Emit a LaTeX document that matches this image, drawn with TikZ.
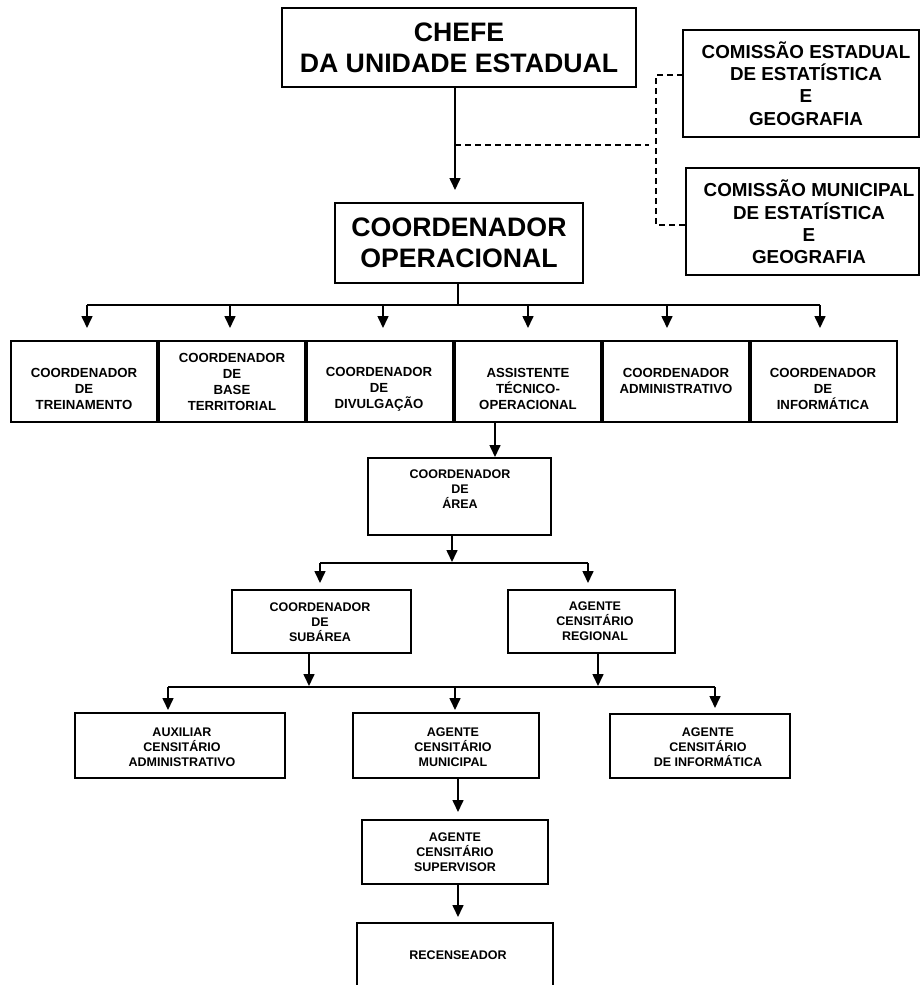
\documentclass[tikz,border=0pt]{standalone}
\usepackage{fontspec}
\setmainfont{Liberation Sans}
\usetikzlibrary{arrows.meta}
\begin{document}
\begin{tikzpicture}[x=1pt,y=-1pt,
  box/.style={draw, line width=2pt, inner sep=0pt, outer sep=0pt},
  bigtxt/.style={align=center, inner sep=0pt, font=\fontsize{26.7}{31}\selectfont\bfseries},
  comtxt/.style={align=center, inner sep=0pt, font=\fontsize{18.8}{22.3}\selectfont\bfseries},
  rowtxt/.style={align=center, inner sep=0pt, font=\fontsize{13.2}{16}\selectfont\bfseries},
  lowtxt/.style={align=center, inner sep=0pt, font=\fontsize{12.5}{15}\selectfont\bfseries},
  conn/.style={line width=1.6pt},
  conn2/.style={line width=2.2pt},
  arr/.style={line width=1.6pt, -{Triangle[width=11pt,length=12pt]}},
  dsh/.style={line width=1.3pt, dash pattern=on 6pt off 4pt}
]
\useasboundingbox (0,0) rectangle (921,985);
\fill[white] (0,0) rectangle (921,985);
\clip (0,0) rectangle (921,985);

% ---- top level ----
\node[box, minimum width=354pt, minimum height=79pt] (chefe) at (459,47.5) {};
\node[bigtxt] (chefe-t) at (459,48) {CHEFE\\DA UNIDADE ESTADUAL};

\node[box, minimum width=236pt, minimum height=107pt] (estadual) at (801,83.5) {};
\node[comtxt] (estadual-t) at (806,83.5) {COMISSÃO ESTADUAL\\DE ESTATÍSTICA\\E\\GEOGRAFIA};

\node[box, minimum width=233pt, minimum height=107pt] (municipal) at (802.5,221.5) {};
\node[comtxt] (municipal-t) at (809,222) {COMISSÃO MUNICIPAL\\DE ESTATÍSTICA\\E\\GEOGRAFIA};

\node[box, minimum width=248pt, minimum height=80pt] (oper) at (459,243) {};
\node[bigtxt] (oper-t) at (459,243) {COORDENADOR\\OPERACIONAL};

% ---- row of six coordinators ----
\foreach \i/\cx in {1/84,2/232,3/380,4/528,5/676,6/824}
  \node[box, minimum width=146pt, minimum height=81pt] (r\i) at (\cx,381.5) {};
\node[rowtxt] (t1) at (84,389) {COORDENADOR\\DE\\TREINAMENTO};
\node[rowtxt] (t2) at (232,382) {COORDENADOR\\DE\\BASE\\TERRITORIAL};
\node[rowtxt] (t3) at (379,389) {COORDENADOR\\DE\\DIVULGAÇÃO};
\node[rowtxt] (t4) at (528,389) {ASSISTENTE\\TÉCNICO-\\OPERACIONAL};
\node[rowtxt] (t5) at (676,381) {COORDENADOR\\ADMINISTRATIVO};
\node[rowtxt] (t6) at (823,389) {COORDENADOR\\DE\\INFORMÁTICA};

% ---- area level ----
\node[box, minimum width=183pt, minimum height=77pt] (area) at (459.5,496.5) {};
\node[lowtxt] (area-t) at (460,489) {COORDENADOR\\DE\\ÁREA};

\node[box, minimum width=179pt, minimum height=63pt] (subarea) at (321.5,621.5) {};
\node[lowtxt] (subarea-t) at (320,622) {COORDENADOR\\DE\\SUBÁREA};

\node[box, minimum width=167pt, minimum height=63pt] (regional) at (591.5,621.5) {};
\node[lowtxt] (regional-t) at (595,621) {AGENTE\\CENSITÁRIO\\REGIONAL};

% ---- municipal level ----
\node[box, minimum width=210pt, minimum height=65pt] (auxiliar) at (180,745.5) {};
\node[lowtxt] (auxiliar-t) at (182,747) {AUXILIAR\\CENSITÁRIO\\ADMINISTRATIVO};

\node[box, minimum width=186pt, minimum height=65pt] (acmun) at (446,745.5) {};
\node[lowtxt] (acmun-t) at (453,747) {AGENTE\\CENSITÁRIO\\MUNICIPAL};

\node[box, minimum width=180pt, minimum height=64pt] (acinf) at (700,746) {};
\node[lowtxt] (acinf-t) at (708,747) {AGENTE\\CENSITÁRIO\\DE INFORMÁTICA};

\node[box, minimum width=186pt, minimum height=64pt] (supervisor) at (455,852) {};
\node[lowtxt] (supervisor-t) at (455,852) {AGENTE\\CENSITÁRIO\\SUPERVISOR};

\node[box, minimum width=196pt, minimum height=67pt] (recens) at (455,956.5) {};
\node[lowtxt] (recens-t) at (458,955) {RECENSEADOR};

% ---- connectors ----
\draw[arr, shorten >=13pt] ([xshift=-4pt]chefe.south) -- ([xshift=-4pt]chefe.south |- oper.north);

% dashed links to the commissions
\coordinate (dj) at (455,145);
\coordinate (dk) at (649,145);
\coordinate (dt) at (656,75);
\coordinate (db) at (656,225);
\draw[dsh] (dj) -- (dk);
\draw[dsh] ([yshift=8.5pt]estadual.west) -- (dt) -- (db) -- ([yshift=-3.5pt]municipal.west);

% bus under the operational coordinator
\coordinate (bus1) at (458,305);
\draw[conn] ([xshift=-1pt]oper.south) -- (bus1);
\coordinate (b1) at (87,305);
\coordinate (b2) at (230,305);
\coordinate (b3) at (383,305);
\coordinate (b4) at (528,305);
\coordinate (b5) at (667,305);
\coordinate (b6) at (820,305);
\draw[conn] (b1) -- (b6);
\foreach \i in {1,...,6}
  \draw[arr, shorten >=13pt] (b\i) -- (b\i |- r\i.north);

% technical assistant to area coordinator
\draw[arr, shorten >=1pt] ([xshift=-33pt]r4.south) -- ([xshift=-33pt]r4.south |- area.north);

% area coordinator to its two branches
\coordinate (c0) at (452,562);
\draw[arr] ([xshift=-7.5pt]area.south) -- (c0);
\coordinate (c1) at (320,563);
\coordinate (c2) at (588,563);
\draw[conn2] (c1) -- (c2);
\draw[arr, shorten >=7pt] (c1) -- (c1 |- subarea.north);
\draw[arr, shorten >=7pt] (c2) -- (c2 |- regional.north);

% subarea / regional to the municipal level
\coordinate (s1) at (309,686);
\coordinate (s2) at (598,686);
\draw[arr] ([xshift=-12.5pt]subarea.south) -- (s1);
\draw[arr] ([xshift=6.5pt]regional.south) -- (s2);
\coordinate (e1) at (168,687);
\coordinate (e2) at (455,687);
\coordinate (e3) at (715,687);
\draw[conn2] (e1) -- (e3);
\draw[arr, shorten >=3pt] (e1) -- (e1 |- auxiliar.north);
\draw[arr, shorten >=3pt] (e2) -- (e2 |- acmun.north);
\draw[arr, shorten >=6pt] (e3) -- (e3 |- acinf.north);

% down to the enumerator
\draw[arr, shorten >=8pt] ([xshift=12pt]acmun.south) -- ([xshift=12pt]acmun.south |- supervisor.north);
\draw[arr, shorten >=6pt] ([xshift=3pt]supervisor.south) -- ([xshift=3pt]supervisor.south |- recens.north);
\end{tikzpicture}
\end{document}
